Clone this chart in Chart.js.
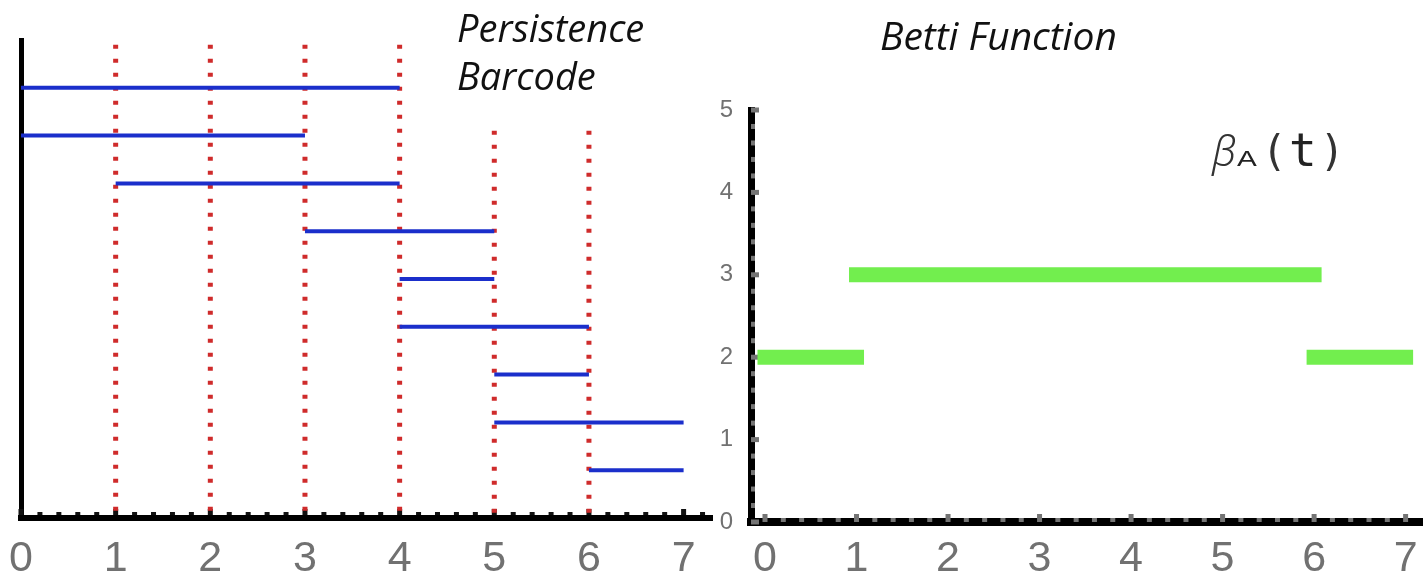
<!DOCTYPE html>
<html>
<head>
<meta charset="utf-8">
<title>Persistence Barcode and Betti Function</title>
<script src="https://cdn.jsdelivr.net/npm/chart.js@4.4.1/dist/chart.umd.min.js"></script>
<style>
  html, body { margin: 0; padding: 0; background: #fff; }
  body { width: 1423px; height: 576px; position: relative; overflow: hidden; }
  canvas { position: absolute; top: 0; }
  #barcodeChart { left: 0; }
  #bettiChart { left: 700px; }
  .title {
    position: absolute;
    font-family: 'Open Sans', sans-serif;
    font-style: italic;
    line-height: 48px;
    color: #111;
    white-space: nowrap;
  }
  .fn-label {
    position: absolute;
    left: 1212px;
    top: 120px;
    line-height: 60px;
    white-space: nowrap;
    color: #222;
  }
  .fn-label .beta { font-family: 'Noto Sans', sans-serif; font-style: italic; font-size: 42px; font-weight: 300; color: #333; }
  .fn-label .sub { font-family: 'Liberation Sans', sans-serif; font-size: 22px; margin-left: 1px; margin-right: 10px; letter-spacing: 0; display: inline-block; transform: scaleX(1.35); transform-origin: left; }
  .fn-label .paren { font-family: 'DejaVu Sans Mono', monospace; font-size: 42px; color: #333; }
  .fn-label .tvar { font-family: 'DejaVu Sans Mono', monospace; font-size: 46px; margin: 0 3px 0 2px; }
</style>
</head>
<body>
<canvas id="barcodeChart" width="720" height="576"></canvas>
<canvas id="bettiChart" width="723" height="576"></canvas>

<div class="title" style="left:457px; top:3px; font-size:38px;">Persistence<br>Barcode</div>
<div class="title" style="left:880px; top:11px; font-size:39px;">Betti Function</div>
<div class="fn-label"><span class="beta">β</span><span class="sub">A</span><span class="paren">(</span><span class="tvar">t</span><span class="paren">)</span></div>

<script>
// Persistence barcode: one bar per row, top row first
const barLevels = [9, 8, 7, 6, 5, 4, 3, 2, 1];
const barStarts = [0, 0, 1, 3, 4, 4, 5, 5, 6];
const barEnds   = [4, 3, 4, 5, 5, 6, 6, 7, 7];

// Dotted filtration markers and how high they reach
const filtrationSteps = [1, 2, 3, 4, 5, 6];
const stepTops = [9.9, 9.9, 9.9, 9.9, 8.1, 8.1];

// Betti function pieces
const bettiStarts = [0, 1, 6];
const bettiEnds   = [1, 6, 7];
const bettiValues = [2, 3, 2];

const xTicks = [0, 1, 2, 3, 4, 5, 6, 7];
const bettiYTicks = [0, 1, 2, 3, 4, 5];

const labelGray = '#717171';
const MINOR_STEP = 0.2;

// Small square tick marks sitting on the axis lines
const axisMarks = {
  id: 'axisMarks',
  beforeDatasetsDraw(chart, args, opts) {
    const ctx = chart.ctx;
    const xs = chart.scales.x;
    const ys = chart.scales.y;
    const axisY = xs.top;
    const axisX = ys.right;
    ctx.save();
    ctx.fillStyle = opts.color;

    const nX = Math.floor((xs.max - xTicks[0]) / MINOR_STEP + 1e-6);
    for (let k = 0; k <= nX; k++) {
      const v = xTicks[0] + k * MINOR_STEP;
      const major = Math.abs(v - Math.round(v)) < 1e-6;
      const len = major ? opts.majorLen : opts.minorLen;
      const px = xs.getPixelForValue(v);
      ctx.fillRect(px - opts.size / 2, axisY - opts.offset - len, opts.size, len);
    }

    if (opts.yAxis) {
      const nY = Math.floor((ys.max - ys.min) / MINOR_STEP + 1e-6);
      for (let k = 0; k <= nY; k++) {
        const v = ys.min + k * MINOR_STEP;
        const major = Math.abs(v - Math.round(v)) < 1e-6;
        const len = major ? opts.majorLen : opts.minorLen;
        const py = ys.getPixelForValue(v);
        ctx.fillRect(axisX + opts.offset, py - opts.size / 2, len, opts.size);
      }
    }
    ctx.restore();
  }
};

function segment(x1, x2, y) {
  return [{ x: x1, y: y }, { x: x2, y: y }];
}

// ---------- Left: persistence barcode ----------
const barcodeSets = [];

barLevels.forEach((level, i) => {
  barcodeSets.push({
    data: segment(barStarts[i], barEnds[i], level),
    borderColor: '#1b2fcb',
    borderWidth: 4,
    borderCapStyle: 'butt'
  });
});

filtrationSteps.forEach((step, i) => {
  barcodeSets.push({
    data: [{ x: step, y: stepTops[i] }, { x: step, y: 0 }],
    borderColor: '#cf2b2b',
    borderWidth: 5,
    borderDash: [4, 10],
    borderCapStyle: 'butt'
  });
});

new Chart(document.getElementById('barcodeChart'), {
  type: 'line',
  data: { datasets: barcodeSets },
  options: {
    responsive: false,
    animation: false,
    events: [],
    clip: false,
    layout: { padding: { left: 21, top: 40, right: 8, bottom: 0 } },
    elements: { point: { radius: 0 }, line: { tension: 0 } },
    plugins: {
      legend: { display: false },
      tooltip: { enabled: false },
      axisMarks: { color: '#111', size: 5, minorLen: 3, majorLen: 6, offset: 3, yAxis: false }
    },
    scales: {
      x: {
        type: 'linear',
        min: 0,
        max: 7.3,
        afterBuildTicks: s => { s.ticks = xTicks.map(v => ({ value: v })); },
        afterFit: s => { s.height = 58; },
        grid: { display: false },
        border: { display: true, color: '#000', width: 6 },
        ticks: {
          padding: 7,
          color: labelGray,
          font: { family: "'Liberation Sans', Arial, sans-serif", size: 43 }
        }
      },
      y: {
        type: 'linear',
        min: 0,
        max: 10,
        afterFit: s => { s.width = 0; },
        grid: { display: false },
        border: { display: true, color: '#000', width: 5 },
        ticks: { display: false }
      }
    }
  },
  plugins: [axisMarks]
});

// ---------- Right: Betti function ----------
const bettiSets = bettiValues.map((value, i) => ({
  data: segment(bettiStarts[i], bettiEnds[i], value),
  borderColor: '#72ee4e',
  borderWidth: 15,
  borderCapStyle: 'square'
}));

new Chart(document.getElementById('bettiChart'), {
  type: 'line',
  data: { datasets: bettiSets },
  options: {
    responsive: false,
    animation: false,
    events: [],
    clip: false,
    layout: { padding: { left: 0, top: 110, right: 0, bottom: 0 } },
    elements: { point: { radius: 0 }, line: { tension: 0 } },
    plugins: {
      legend: { display: false },
      tooltip: { enabled: false },
      axisMarks: { color: '#747474', size: 5, minorLen: 4, majorLen: 8, offset: 0, yAxis: true }
    },
    scales: {
      x: {
        type: 'linear',
        min: -0.153,
        max: 7.19,
        afterBuildTicks: s => { s.ticks = xTicks.map(v => ({ value: v })); },
        afterFit: s => { s.height = 54; },
        grid: { display: false },
        border: { display: true, color: '#000', width: 8 },
        ticks: {
          padding: 3,
          color: labelGray,
          font: { family: "'Liberation Sans', Arial, sans-serif", size: 43 }
        }
      },
      y: {
        type: 'linear',
        min: 0,
        max: 5,
        afterBuildTicks: s => { s.ticks = bettiYTicks.map(v => ({ value: v })); },
        afterFit: s => { s.width = 51; },
        grid: { display: false },
        border: { display: true, color: '#000', width: 7 },
        ticks: {
          padding: 10,
          color: labelGray,
          font: { family: "'Liberation Sans', Arial, sans-serif", size: 24 }
        }
      }
    }
  },
  plugins: [axisMarks]
});
</script>
</body>
</html>
